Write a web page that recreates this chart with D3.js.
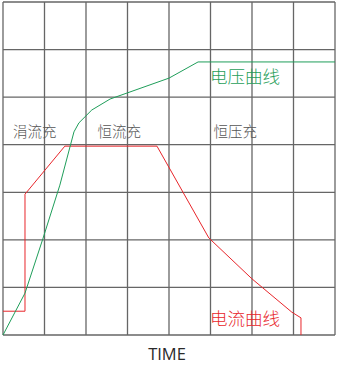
<!DOCTYPE html>
<html>
<head>
<meta charset="utf-8">
<script src="https://cdn.jsdelivr.net/npm/d3@7"></script>
<style>
  body { margin: 0; background: #fff; }
</style>
</head>
<body>
<div id="chart"></div>
<script>
// grid is 8 columns x 7 rows, values in grid units
let cols = 8
let rows = 7

// voltage curve (green)
let voltageX = [0, 0.53, 0.96, 1.37, 1.71, 1.83, 2.14, 2.58, 4.0, 4.7, 8.0]
let voltageY = [0, 0.88, 2.02, 3.15, 4.27, 4.46, 4.73, 4.96, 5.4, 5.74, 5.74]

// current curve (red)
let currentX = [0, 0.53, 0.53, 1.49, 3.71, 4.96, 6.0, 6.96, 7.18, 7.18]
let currentY = [0.5, 0.5, 2.96, 3.97, 3.97, 2.04, 1.18, 0.48, 0.36, 0]

let stageLabels = ['涓流充', '恒流充', '恒压充']
let stageX = [0.24, 2.28, 5.07]
let stageY = [4.17, 4.17, 4.17]

let width = 339
let height = 369
let margin = { top: 2, left: 3, right: 4, bottom: 34 }

let svg = d3
  .select('#chart')
  .append('svg')
  .attr('width', width)
  .attr('height', height)

let x = d3.scaleLinear().domain([0, cols]).range([margin.left, width - margin.right])
let y = d3.scaleLinear().domain([0, rows]).range([height - margin.bottom, margin.top])

// grid
svg
  .append('g')
  .selectAll('line')
  .data(d3.range(cols + 1))
  .enter()
  .append('line')
  .attr('x1', d => x(d))
  .attr('x2', d => x(d))
  .attr('y1', y(0))
  .attr('y2', y(rows))
  .attr('stroke', '#666')
  .attr('stroke-width', 1.3)

svg
  .append('g')
  .selectAll('line')
  .data(d3.range(rows + 1))
  .enter()
  .append('line')
  .attr('x1', x(0))
  .attr('x2', x(cols))
  .attr('y1', d => y(d))
  .attr('y2', d => y(d))
  .attr('stroke', '#666')
  .attr('stroke-width', 1.3)

let line = d3.line().x(d => x(d[0])).y(d => y(d[1]))

svg
  .append('path')
  .datum(d3.zip(currentX, currentY))
  .attr('d', line)
  .attr('fill', 'none')
  .attr('stroke', '#e8262b')
  .attr('stroke-width', 1)

svg
  .append('path')
  .datum(d3.zip(voltageX, voltageY))
  .attr('d', line)
  .attr('fill', 'none')
  .attr('stroke', '#1f9e5a')
  .attr('stroke-width', 1)

let cjk = '"Noto Sans CJK SC", sans-serif'

svg
  .append('g')
  .selectAll('text')
  .data(stageLabels)
  .enter()
  .append('text')
  .attr('x', (d, i) => x(stageX[i]))
  .attr('y', (d, i) => y(stageY[i]))
  .attr('font-family', cjk)
  .attr('font-size', 14.5)
  .attr('font-weight', 300)
  .attr('fill', '#555')
  .text(d => d)

svg
  .append('text')
  .attr('x', x(4.99))
  .attr('y', y(5.3))
  .attr('font-family', cjk)
  .attr('font-size', 17.5)
  .attr('font-weight', 300)
  .attr('fill', '#1f9e5a')
  .text('电压曲线')

svg
  .append('text')
  .attr('x', x(4.99))
  .attr('y', y(0.2))
  .attr('font-family', cjk)
  .attr('font-size', 17.5)
  .attr('font-weight', 300)
  .attr('fill', '#e8262b')
  .text('电流曲线')

svg
  .append('text')
  .attr('x', 167)
  .attr('y', 360)
  .attr('text-anchor', 'middle')
  .attr('font-family', 'Open Sans, sans-serif')
  .attr('font-size', 16.5)
  .attr('fill', '#2a2a2a')
  .text('TIME')
</script>
</body>
</html>
